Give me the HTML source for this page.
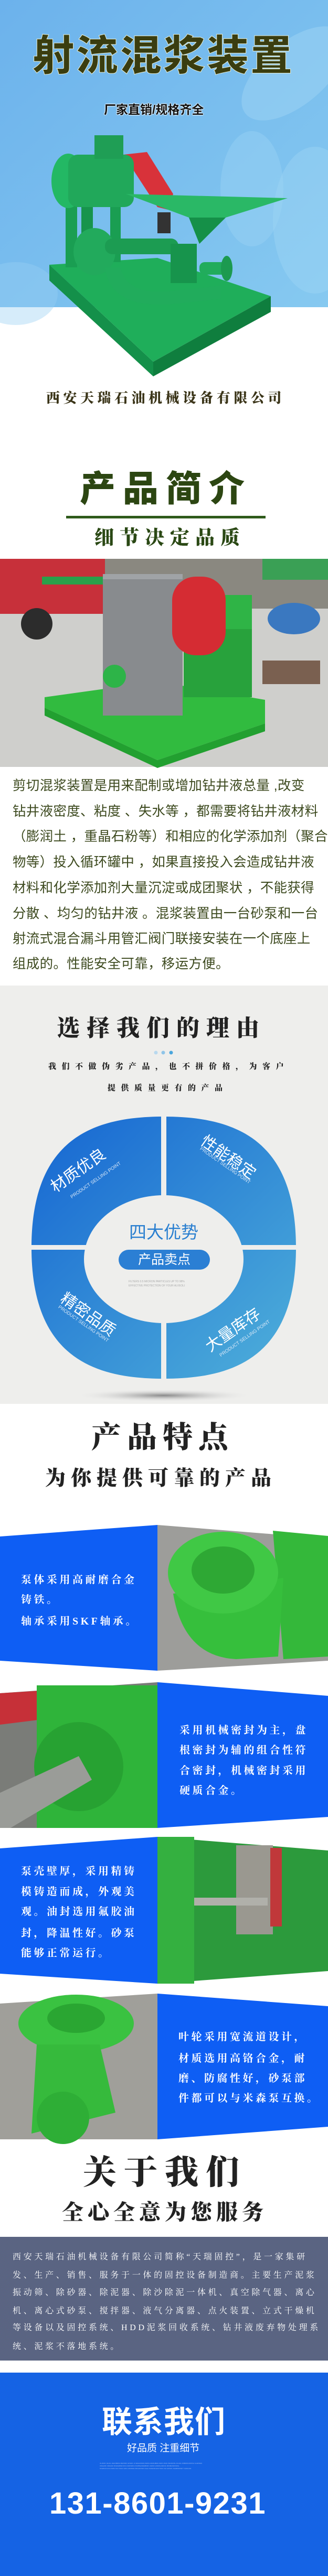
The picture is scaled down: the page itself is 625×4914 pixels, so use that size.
<!DOCTYPE html>
<html><head><meta charset="utf-8">
<style>
*{margin:0;padding:0;box-sizing:border-box}
body{width:625px;height:4914px;position:relative;background:#fff;overflow:hidden;font-family:"Liberation Sans","Noto Sans CJK SC",sans-serif}
.a{position:absolute;white-space:nowrap}
.cal{font-family:"Liberation Serif","Noto Serif CJK SC",serif;font-weight:900}
svg.bg{position:absolute;left:0;top:0}
.ft{position:absolute;color:#fff;font-family:"Liberation Serif","Noto Serif CJK SC",serif;font-size:20px;letter-spacing:4.5px;font-weight:700;white-space:nowrap}
.p{position:absolute;left:24px;font-size:25.5px;color:#3d4a1f;white-space:nowrap;font-family:"Liberation Sans","Noto Sans CJK SC",sans-serif;letter-spacing:0.3px}
.ab{position:absolute;left:24px;font-size:16px;letter-spacing:4.7px;color:#fff;white-space:nowrap;font-family:"Liberation Serif","Noto Serif CJK SC",serif}
</style></head><body>
<svg class="bg" width="625" height="4914" viewBox="0 0 625 4914">
<defs>
<linearGradient id="sky" x1="0" y1="0" x2="1" y2="1"><stop offset="0" stop-color="#6cb2ec"/><stop offset="1" stop-color="#86c9f0"/></linearGradient>
<linearGradient id="ring" x1="0" y1="0" x2="1" y2="1"><stop offset="0" stop-color="#1565d2"/><stop offset="1" stop-color="#4fb0da"/></linearGradient>
<radialGradient id="sh" cx="0.5" cy="0.5" r="0.5"><stop offset="0" stop-color="#888"/><stop offset="1" stop-color="#eee" stop-opacity="0"/></radialGradient>
</defs>
<!-- top hero -->
<rect x="0" y="0" width="625" height="586" fill="url(#sky)"/>
<ellipse cx="560" cy="140" rx="120" ry="60" fill="#9dd3f4" opacity="0.5" transform="rotate(-40 560 140)"/>
<ellipse cx="600" cy="420" rx="80" ry="140" fill="#9ed4f4" opacity="0.45"/>
<ellipse cx="480" cy="360" rx="60" ry="110" fill="#9ed4f4" opacity="0.4"/>
<ellipse cx="30" cy="560" rx="80" ry="60" fill="#98d0f2" opacity="0.4"/>
<!-- machine -->
<polygon points="94,505 300,492 516,565 292,690" fill="#1fae5a"/>
<polygon points="94,505 292,690 292,718 94,535" fill="#14904a"/>
<polygon points="292,690 516,565 516,595 292,718" fill="#0f7e3e"/>
<rect x="125" y="390" width="22" height="120" fill="#1a9e52"/>
<rect x="155" y="385" width="22" height="125" fill="#17944c"/>
<rect x="210" y="390" width="20" height="110" fill="#1a9e52"/>
<polygon points="235,295 280,290 330,370 320,400 300,395" fill="#d8323a"/>
<ellipse cx="130" cy="345" rx="32" ry="52" fill="#23b864"/>
<rect x="130" y="295" width="125" height="100" rx="18" fill="#21a85a"/>
<rect x="180" y="258" width="55" height="45" fill="#1f9e55"/>
<polygon points="240,370 548,378 430,415 380,465 360,415" fill="#2ab866"/>
<polygon points="360,415 430,415 380,465" fill="#159048"/>
<rect x="300" y="405" width="25" height="40" fill="#333"/>
<ellipse cx="180" cy="480" rx="40" ry="45" fill="#22aa5c"/>
<rect x="200" y="455" width="140" height="30" rx="14" fill="#1c9c52"/>
<path d="M200 510 q10 80 130 70 l90 -10 v-25 l-90 10 q-90 10 -100 -45z" fill="#21ac5c"/>
<rect x="325" y="465" width="50" height="75" fill="#17944c"/>
<rect x="380" y="500" width="60" height="24" rx="10" fill="#21ac5c"/>
<ellipse cx="432" cy="512" rx="11" ry="24" fill="#1c9a50"/>
<!-- section 2 -->
<rect x="126" y="984" width="380" height="5" fill="#2e5a1b"/>
<rect x="0" y="1066" width="625" height="397" fill="#cfcfcc"/>
<rect x="0" y="1066" width="625" height="95" fill="#8a8880"/>
<rect x="0" y="1066" width="200" height="105" fill="#c7303a"/>
<rect x="80" y="1100" width="120" height="15" fill="#2aa04a"/>
<circle cx="70" cy="1190" r="30" fill="#2c2c2c"/>
<rect x="500" y="1066" width="125" height="40" fill="#3aa055"/>
<ellipse cx="560" cy="1180" rx="50" ry="30" fill="#3a78c0"/>
<rect x="500" y="1260" width="110" height="45" fill="#7a6050"/>
<polygon points="85,1330 300,1300 505,1335 505,1380 300,1450 85,1350" fill="#31bb3f"/>
<polygon points="85,1350 300,1450 505,1380 505,1395 300,1465 85,1365" fill="#22a030"/>
<rect x="340" y="1135" width="140" height="95" fill="#2fb446"/>
<rect x="350" y="1200" width="130" height="130" fill="#28a23c"/>
<rect x="196" y="1095" width="152" height="270" fill="#888b8e"/>
<rect x="196" y="1095" width="152" height="10" fill="#a0a3a6"/>
<rect x="328" y="1100" width="102" height="150" rx="45" fill="#d52c33"/>
<circle cx="218" cy="1290" r="22" fill="#2db448"/>
<!-- section 3 gray -->
<rect x="0" y="1880" width="625" height="798" fill="#eeeeec"/>
<circle cx="297" cy="2008" r="3.5" fill="#b8d8ee"/>
<circle cx="311" cy="2008" r="3.5" fill="#8fc4e8"/>
<circle cx="326" cy="2008" r="3.5" fill="#4aa6dc"/>
<ellipse cx="312" cy="2662" rx="170" ry="12" fill="url(#sh)"/>
<path fill-rule="evenodd" fill="url(#ring)" d="M60 2380 C60 2170 180 2130 312 2130 C444 2130 564 2170 564 2380 C564 2590 444 2630 312 2630 C180 2630 60 2590 60 2380Z M160 2402 a152 122 0 1 0 304 0 a152 122 0 1 0 -304 0Z"/>
<rect x="307" y="2120" width="10" height="520" fill="#eeeeec"/>
<rect x="50" y="2375" width="530" height="9" fill="#eeeeec"/>
<rect x="226" y="2384" width="174" height="38" rx="19" fill="#2b7fd4"/>
<!-- features -->
<polygon points="0,2931 300,2909 300,3187 0,3168" fill="#0e5ef4"/>
<polygon points="300,2909 625,2935 625,3168 300,3187" fill="#9d9d9a"/>
<polygon points="520,2920 625,2930 625,3160 540,3165" fill="#34b83a"/>
<path d="M330 3040 q20 120 120 125 l80 -5 l10 -150z" fill="#36bf3c"/>
<ellipse cx="425" cy="3000" rx="105" ry="78" fill="#40c845"/>
<ellipse cx="425" cy="2995" rx="60" ry="45" fill="#2ea834"/>
<polygon points="0,3230 300,3209 300,3487 0,3487" fill="#7a7c78"/>
<polygon points="0,3230 80,3225 80,3280 0,3290" fill="#c63038"/>
<rect x="70" y="3215" width="230" height="272" fill="#2fb43a"/>
<circle cx="150" cy="3370" r="85" fill="#27a232"/>
<polygon points="0,3420 150,3350 175,3395 20,3487 0,3487" fill="#9a9c98"/>
<polygon points="300,3209 625,3235 625,3466 300,3487" fill="#0e5ef4"/>
<polygon points="0,3526 300,3504 300,3784 0,3765" fill="#0e5ef4"/>
<polygon points="300,3504 625,3530 625,3760 300,3784" fill="#2c9a3c"/>
<rect x="300" y="3504" width="70" height="280" fill="#34b040"/>
<rect x="450" y="3520" width="70" height="170" fill="#9a9890"/>
<rect x="515" y="3525" width="22" height="150" fill="#c0383a"/>
<rect x="370" y="3620" width="140" height="15" fill="#b0b0aa"/>
<polygon points="0,3822 300,3803 300,4081 0,4081" fill="#a09f9a"/>
<ellipse cx="145" cy="3860" rx="110" ry="55" fill="#3ac241"/>
<ellipse cx="145" cy="3850" rx="55" ry="28" fill="#2aa632"/>
<path d="M70 3900 L190 3900 L220 4030 L60 4070z" fill="#36ba3c"/>
<circle cx="120" cy="4040" r="50" fill="#2eae36"/>
<polygon points="300,3803 625,3827 625,4057 300,4081" fill="#0e5ef4"/>
<!-- about -->
<rect x="0" y="4267" width="625" height="236" fill="#5a6482"/>
<rect x="0" y="4526" width="625" height="388" fill="#1563e4"/>
</svg>

<div class="a" style="left:62px;top:60px;font-size:80px;font-weight:900;letter-spacing:3px;color:#3a3d10;line-height:94px;-webkit-text-stroke:1px #e8f0d8;font-family:'Liberation Sans','Noto Sans CJK SC',sans-serif">射流混浆装置</div>
<div class="a" style="left:198px;top:195px;font-size:23px;font-weight:700;color:#111;line-height:28px;text-shadow:0 0 2px #fff,0 0 2px #fff,0 0 2px #fff">厂家直销/规格齐全</div>
<div class="a cal" style="left:88px;top:742px;font-size:26px;letter-spacing:6.5px;color:#3a3418;line-height:36px;text-shadow:0 0 2px #fff">西安天瑞石油机械设备有限公司</div>

<div class="a cal" style="left:152px;top:893px;font-size:68px;letter-spacing:14px;color:#2c4612;line-height:80px;font-family:'Liberation Sans','Noto Sans CJK SC',sans-serif">产品简介</div>
<div class="a cal" style="left:180px;top:1004px;font-size:37px;letter-spacing:11px;color:#2a4814;line-height:46px">细节决定品质</div>

<div class="p" style="top:1478px">剪切混浆装置是用来配制或增加钻井液总量 ,改变</div>
<div class="p" style="top:1527px">钻井液密度、粘度 、失水等 ，都需要将钻井液材料</div>
<div class="p" style="top:1575px">（膨润土 ，重晶石粉等）和相应的化学添加剂（聚合</div>
<div class="p" style="top:1624px">物等）投入循环罐中 ，如果直接投入会造成钻井液</div>
<div class="p" style="top:1673px">材料和化学添加剂大量沉淀或成团聚状 ，不能获得</div>
<div class="p" style="top:1722px">分散 、均匀的钻井液 。混浆装置由一台砂泵和一台</div>
<div class="p" style="top:1770px">射流式混合漏斗用管汇阀门联接安装在一个底座上</div>
<div class="p" style="top:1818px">组成的。性能安全可靠，移运方便。</div>

<div class="a cal" style="left:108px;top:1934px;font-size:44px;letter-spacing:13px;color:#222;line-height:56px">选择我们的理由</div>
<div class="a cal" style="left:92px;top:2024px;font-size:15px;letter-spacing:10.5px;color:#222;line-height:22px">我们不做伪劣产品，也不拼价格，为客户</div>
<div class="a cal" style="left:205px;top:2065px;font-size:15px;letter-spacing:10.5px;color:#222;line-height:22px">提供质量更有的产品</div>

<div class="a" style="left:110px;top:2248px;font-size:30px;color:#fff;line-height:34px;transform:rotate(-35deg);transform-origin:left bottom">材质优良</div>
<div class="a" style="left:138px;top:2278px;font-size:9px;color:#dbe9f8;transform:rotate(-35deg);transform-origin:left bottom">PRODUCT SELLING POINT</div>
<div class="a" style="left:395px;top:2160px;font-size:30px;color:#fff;line-height:34px;transform:rotate(35deg);transform-origin:left top">性能稳定</div>
<div class="a" style="left:385px;top:2186px;font-size:9px;color:#dbe9f8;transform:rotate(35deg);transform-origin:left top">PRODUCT SELLING POINT</div>
<div class="a" style="left:128px;top:2460px;font-size:30px;color:#fff;line-height:34px;transform:rotate(35deg);transform-origin:left top">精密品质</div>
<div class="a" style="left:115px;top:2488px;font-size:9px;color:#dbe9f8;transform:rotate(35deg);transform-origin:left top">PRODUCT SELLING POINT</div>
<div class="a" style="left:405px;top:2552px;font-size:30px;color:#fff;line-height:34px;transform:rotate(-35deg);transform-origin:left bottom">大量库存</div>
<div class="a" style="left:422px;top:2580px;font-size:9px;color:#dbe9f8;transform:rotate(-35deg);transform-origin:left bottom">PRODUCT SELLING POINT</div>
<div class="a" style="left:246px;top:2332px;font-size:33px;color:#2a7fd0;line-height:38px">四大优势</div>
<div class="a" style="left:226px;top:2386px;width:174px;text-align:center;font-size:25px;color:#fff;line-height:34px">产品卖点</div>
<div class="a" style="left:245px;top:2441px;font-size:5px;color:#aaa;line-height:8px">FILTERS 0.5 MICRON PARTICLES UP TO 98%<br>EFFECTIVE PROTECTION OF YOUR ALVEOLI</div>

<div class="a cal" style="left:174px;top:2708px;font-size:57px;letter-spacing:11px;color:#222;line-height:70px">产品特点</div>
<div class="a cal" style="left:86px;top:2796px;font-size:39px;letter-spacing:10px;color:#222;line-height:50px">为你提供可靠的产品</div>

<div class="ft" style="left:40px;top:2997px">泵体采用高耐磨合金</div>
<div class="ft" style="left:40px;top:3035px">铸铁。</div>
<div class="ft" style="left:40px;top:3076px">轴承采用SKF轴承。</div>

<div class="ft" style="left:342px;top:3284px">采用机械密封为主，盘</div>
<div class="ft" style="left:342px;top:3322px">根密封为辅的组合性符</div>
<div class="ft" style="left:342px;top:3361px">合密封，机械密封采用</div>
<div class="ft" style="left:342px;top:3399px">硬质合金。</div>

<div class="ft" style="left:40px;top:3553px">泵壳壁厚，采用精铸</div>
<div class="ft" style="left:40px;top:3592px">模铸造而成，外观美</div>
<div class="ft" style="left:40px;top:3630px">观。油封选用氟胶油</div>
<div class="ft" style="left:40px;top:3671px">封，降温性好。砂泵</div>
<div class="ft" style="left:40px;top:3709px">能够正常运行。</div>

<div class="ft" style="left:340px;top:3869px">叶轮采用宽流道设计，</div>
<div class="ft" style="left:340px;top:3910px">材质选用高铬合金，耐</div>
<div class="ft" style="left:340px;top:3948px">磨、防腐性好，砂泵部</div>
<div class="ft" style="left:340px;top:3986px">件都可以与米森泵互换。</div>

<div class="a cal" style="left:158px;top:4106px;font-size:64px;letter-spacing:14px;color:#222;line-height:78px">关于我们</div>
<div class="a cal" style="left:118px;top:4194px;font-size:41px;letter-spacing:8px;color:#222;line-height:52px">全心全意为您服务</div>

<div class="ab" style="top:4292px">西安天瑞石油机械设备有限公司简称“天瑞固控”，是一家集研</div>
<div class="ab" style="top:4327px">发、生产、销售、服务于一体的固控设备制造商。主要生产泥浆</div>
<div class="ab" style="top:4360px">振动筛、除砂器、除泥器、除沙除泥一体机、真空除气器、离心</div>
<div class="ab" style="top:4395px">机、离心式砂泵、搅拌器、液气分离器、点火装置、立式干燥机</div>
<div class="ab" style="top:4427px">等设备以及固控系统、HDD泥浆回收系统、钻井液废弃物处理系</div>
<div class="ab" style="top:4463px">统、泥浆不落地系统。</div>

<div class="a" style="left:194px;top:4588px;font-size:58px;font-weight:700;color:#fff;line-height:66px;letter-spacing:1px">联系我们</div>
<div class="a" style="left:242px;top:4658px;font-size:19px;color:#fff;line-height:26px">好品质 注重细节</div>
<div class="a" style="left:190px;top:4697px;font-size:3px;color:#9fbef0;line-height:5px">OLJKDF JGLDL JHGOBDFG BHKSDF GKSDK JL SDHHKSDF ASDKLGSDFHBDF ASDN JFHK JSDAFDSL DLHIJL DSBJDFUDFFS2 LGHFDHS<br>OSGHOF JSDHGK DFGSHBSD DFJL SDFSDFG FNCBSHSDHBFDF LSDKF HJNDSLSRKOL BFNBASDFKDSL<br>KFHDCKCVCH SDFU DF CSGN JHFG GNFRHE KRGHFOSD CGHL SFDHNKURCYNKK ASJ GKSDF JGHBWKDSFY JHKALSD</div>
<div class="a" style="left:94px;top:4740px;font-size:58px;font-weight:700;color:#fff;line-height:72px;letter-spacing:1.5px">131-8601-9231</div>
</body></html>
